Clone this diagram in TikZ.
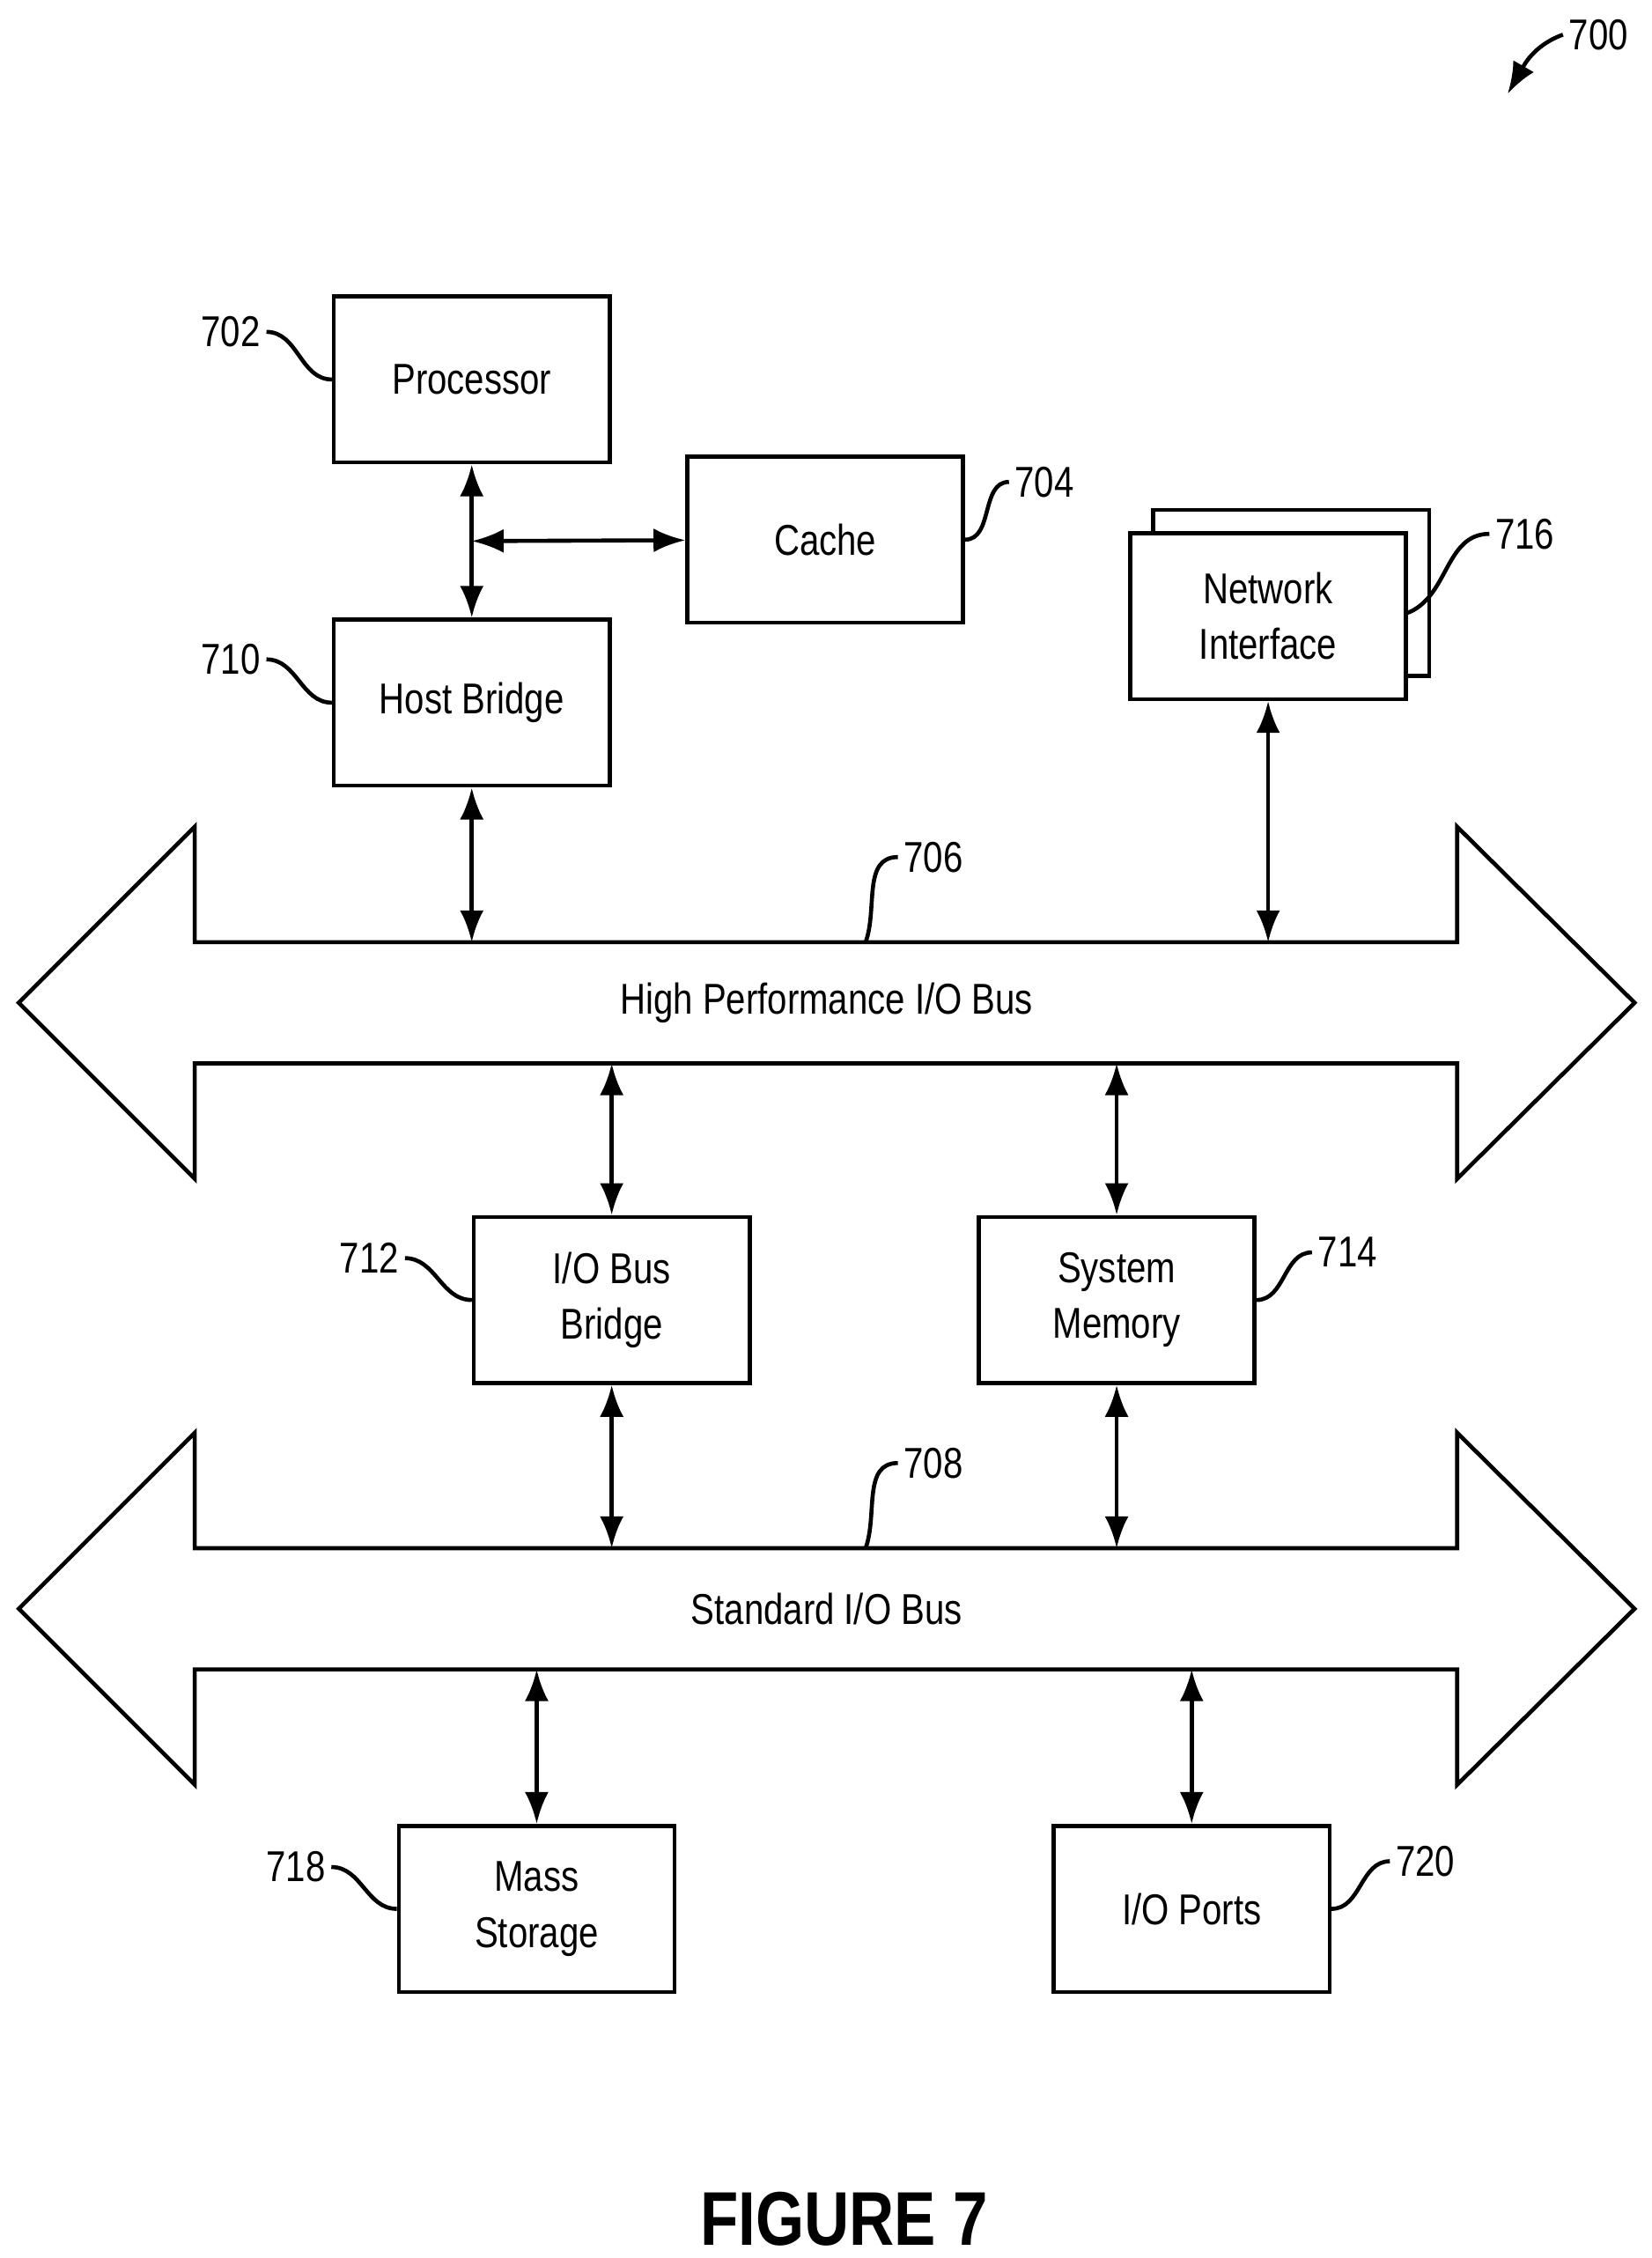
\documentclass[tikz,border=0pt]{standalone}
\usepackage{fontspec}
\setmainfont{Liberation Sans}[FakeStretch=0.82]
\usetikzlibrary{arrows.meta}

\tikzset{
  blk/.style={draw, thick, fill=white, minimum width=1.91cm, minimum height=1.15cm, align=center, font=\fontsize{8.5}{11}\selectfont},
  num/.style={font=\fontsize{8.5}{11}\selectfont, inner sep=1pt},
  lnk/.style={thick, {Latex[length=2.2mm]}-{Latex[length=2.2mm]}},
  lead/.style={thick}
}

\newcommand{\busshape}[1]{%
  \draw[thick] (135,#1-42) -- (135,#1-122) -- (13,#1) -- (135,#1+122) -- (135,#1+42)
    -- (1010,#1+42) -- (1010,#1+122) -- (1133,#1) -- (1010,#1-122) -- (1010,#1-42) -- cycle;}

\begin{document}
\begin{tikzpicture}[x=0.01cm, y=-0.01cm]
	\useasboundingbox (0,0) rectangle (1145,1565);

	% boxes
	\node[blk] (proc) at (327,263) {Processor};
	\node[blk] (cache) at (572,374) {Cache};
	\node[blk] (host) at (327,487) {Host Bridge};
	\node[blk] (nib) at (895,411) {};
	\node[blk] (ni) at (879,427) {Network\\Interface};
	\node[blk] (iobb) at (424,901) {I/O Bus\\Bridge};
	\node[blk] (mem) at (774,901) {System\\Memory};
	\node[blk] (mass) at (372,1323) {Mass\\Storage};
	\node[blk] (ports) at (826,1323) {I/O Ports};

	% buses
	\busshape{695}
	\busshape{1115}
	\node[num] (hpbus) at (573,695) {High Performance I/O Bus};
	\node[num] (stdbus) at (573,1115) {Standard I/O Bus};

	\coordinate (mid) at (327,375);
	\coordinate (b1h) at (327,653);
	\coordinate (b1n) at (879,653);
	\coordinate (b1i) at (424,737);
	\coordinate (b1m) at (774,737);
	\coordinate (b2i) at (424,1073);
	\coordinate (b2m) at (774,1073);
	\coordinate (b2s) at (372,1157);
	\coordinate (b2p) at (826,1157);

	% connectors
	\draw[lnk] (proc) -- (host);
	\draw[lnk] (mid) -- (cache);
	\draw[lnk] (host) -- (b1h);
	\draw[lnk] (ni) -- (b1n);
	\draw[lnk] (b1i) -- (iobb);
	\draw[lnk] (b1m) -- (mem);
	\draw[lnk] (iobb) -- (b2i);
	\draw[lnk] (mem) -- (b2m);
	\draw[lnk] (b2s) -- (mass);
	\draw[lnk] (b2p) -- (ports);

	% reference numerals
	\node[num] (n702) at (160,230) {702};
	\node[num] (n710) at (160,457) {710};
	\node[num] (n704) at (724,334) {704};
	\node[num] (n716) at (1057,370) {716};
	\node[num] (n706) at (647,594) {706};
	\node[num] (n708) at (647,1014) {708};
	\node[num] (n712) at (256,872) {712};
	\node[num] (n714) at (934,868) {714};
	\node[num] (n718) at (205,1294) {718};
	\node[num] (n720) at (988,1290) {720};
	\node[num] (n700) at (1108,24) {700};

	\coordinate (c706) at (600,653);
	\coordinate (c708) at (600,1073);
	\coordinate (c716) at (975,425);
	\coordinate (c700) at (1045,65);

	\draw[lead] (n702.east) to[out=0,in=180] (proc.west);
	\draw[lead] (n710.east) to[out=0,in=180] (host.west);
	\draw[lead] (n712.east) to[out=0,in=180] (iobb.west);
	\draw[lead] (n718.east) to[out=0,in=180] (mass.west);
	\draw[lead] (n704.west) to[out=180,in=0] (cache.east);
	\draw[lead] (n714.west) to[out=180,in=0] (mem.east);
	\draw[lead] (n720.west) to[out=180,in=0] (ports.east);
	\draw[lead] (n716.west) to[out=180,in=20] (c716);
	\draw[lead] (n706.west) to[out=180,in=70] (c706);
	\draw[lead] (n708.west) to[out=180,in=70] (c708);
	\draw[lead, -{Latex[length=2.2mm]}] (n700.west) to[out=200,in=60] (c700);

	\node[font=\bfseries\fontsize{15}{18}\selectfont] (fig) at (585,1538) {FIGURE 7};
\end{tikzpicture}
\end{document}
